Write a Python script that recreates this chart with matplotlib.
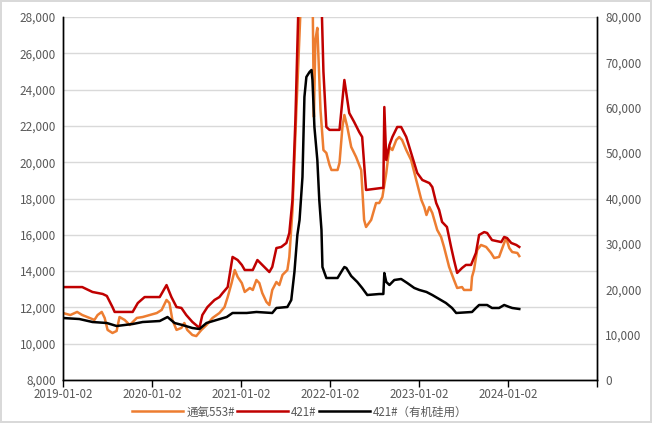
import matplotlib
matplotlib.use("Agg")
import matplotlib.pyplot as plt
import matplotlib.dates as mdates
import pandas as pd
from matplotlib.ticker import FuncFormatter, MultipleLocator
from matplotlib.lines import Line2D

plt.rcParams['font.family'] = ['Noto Sans CJK SC', 'DejaVu Sans']

# 通氧553# (left axis)
o_dates = ["2019-01-02","2019-02-01","2019-03-01","2019-03-22","2019-04-21","2019-05-11","2019-05-24","2019-06-10","2019-06-22","2019-07-04","2019-07-24","2019-08-10","2019-08-22","2019-09-12","2019-10-03","2019-11-01","2019-11-25","2019-12-24","2020-01-22","2020-02-11","2020-03-02","2020-03-14","2020-03-26","2020-04-12","2020-05-02","2020-05-14","2020-05-26","2020-06-16","2020-07-02","2020-07-23","2020-08-13","2020-09-07","2020-10-05","2020-10-26","2020-11-08","2020-11-24","2020-12-07","2020-12-19","2021-01-05","2021-01-17","2021-02-07","2021-02-19","2021-03-06","2021-03-18","2021-03-30","2021-04-16","2021-04-28","2021-05-10","2021-05-27","2021-06-08","2021-06-21","2021-07-11","2021-07-19","2021-08-01","2021-08-17","2021-09-03","2021-09-19","2021-10-10","2021-10-22","2021-10-28","2021-11-03","2021-11-11","2021-11-24","2021-12-06","2021-12-18","2021-12-31","2022-01-08","2022-02-02","2022-02-10","2022-02-22","2022-03-02","2022-03-14","2022-03-30","2022-04-19","2022-05-10","2022-05-22","2022-05-30","2022-06-20","2022-07-10","2022-07-23","2022-08-05","2022-08-21","2022-09-03","2022-09-15","2022-10-01","2022-10-13","2022-10-25","2022-11-11","2022-12-01","2022-12-22","2023-01-12","2023-01-24","2023-02-02","2023-02-14","2023-02-26","2023-03-18","2023-04-03","2023-04-15","2023-05-06","2023-05-26","2023-06-08","2023-06-28","2023-07-06","2023-08-04","2023-08-08","2023-08-16","2023-08-29","2023-09-14","2023-10-05","2023-10-25","2023-11-07","2023-11-27","2023-12-18","2023-12-26","2024-01-08","2024-01-20","2024-02-10","2024-02-18"]
o_vals = [11690,11580,11750,11580,11420,11310,11580,11750,11420,10760,10590,10700,11470,11310,11030,11420,11470,11580,11690,11860,12410,12240,11310,10760,10870,11140,10760,10480,10420,10760,11030,11420,11690,12020,12570,13340,14060,13680,13340,12850,13070,12960,13510,13340,12790,12300,12130,12960,13400,13230,13790,14060,14780,17370,22880,28390,40000,50000,30000,22490,26730,27400,22880,20670,20510,19850,19570,19570,19960,21940,22600,21940,20840,20290,19570,16820,16430,16820,17750,17750,18080,19410,20840,20670,21220,21390,21220,20670,20120,19020,17920,17530,17090,17530,17200,16270,15880,15330,14230,13510,13070,13120,12960,12960,13680,14060,15160,15440,15330,15000,14720,14780,15550,15820,15270,15050,15000,14830]

# 421# (left axis)
r_dates = ["2019-01-02","2019-03-22","2019-05-03","2019-06-14","2019-07-01","2019-07-24","2019-08-02","2019-10-15","2019-11-05","2019-12-03","2020-02-03","2020-03-02","2020-03-22","2020-04-12","2020-05-02","2020-05-22","2020-06-16","2020-07-15","2020-07-27","2020-08-17","2020-09-15","2020-10-05","2020-10-18","2020-11-08","2020-11-28","2020-12-19","2021-01-05","2021-01-17","2021-02-19","2021-03-10","2021-03-30","2021-04-28","2021-05-10","2021-05-27","2021-06-16","2021-07-07","2021-07-19","2021-08-01","2021-08-13","2021-08-25","2021-09-19","2021-10-18","2021-11-15","2021-11-28","2021-12-06","2021-12-18","2021-12-31","2022-02-10","2022-03-02","2022-03-22","2022-04-11","2022-05-02","2022-05-14","2022-05-30","2022-08-01","2022-08-09","2022-08-13","2022-08-21","2022-09-03","2022-09-15","2022-10-05","2022-10-21","2022-11-11","2022-12-01","2022-12-26","2023-01-16","2023-02-14","2023-02-26","2023-03-14","2023-03-26","2023-04-07","2023-04-27","2023-05-14","2023-05-26","2023-06-08","2023-06-28","2023-07-14","2023-08-04","2023-08-24","2023-09-06","2023-09-27","2023-10-09","2023-10-29","2023-12-06","2023-12-18","2023-12-30","2024-01-16","2024-02-06","2024-02-18"]
r_vals = [13120,13120,12850,12740,12630,12020,11750,11750,12240,12570,12570,13230,12570,12020,11970,11580,11200,10870,11580,12020,12410,12570,12790,13120,14780,14610,14340,14060,14060,14610,14340,13950,14230,15270,15330,15550,16100,17920,22330,28390,40000,52000,40000,29000,25000,21940,21780,21780,24530,22710,22220,21660,21390,18470,18580,18580,23040,20120,20950,21390,21940,21940,21390,20510,19410,19020,18850,18630,17750,17370,16710,16430,15330,14610,13900,14170,14340,14340,15000,15990,16150,16100,15710,15600,15880,15820,15550,15440,15330]

# 421#（有机硅用） (right axis)
k_dates = ["2019-01-02","2019-03-10","2019-05-03","2019-07-01","2019-08-10","2019-10-15","2019-11-25","2020-02-03","2020-03-06","2020-04-04","2020-05-06","2020-06-16","2020-07-15","2020-08-13","2020-09-23","2020-11-04","2020-11-28","2021-01-25","2021-03-06","2021-05-10","2021-05-27","2021-07-11","2021-07-27","2021-08-09","2021-08-21","2021-08-30","2021-09-11","2021-09-19","2021-09-27","2021-10-10","2021-10-18","2021-10-22","2021-10-30","2021-11-11","2021-11-19","2021-11-28","2021-12-02","2021-12-18","2022-02-02","2022-02-22","2022-03-02","2022-03-10","2022-03-30","2022-04-24","2022-05-14","2022-06-04","2022-07-23","2022-08-09","2022-08-13","2022-08-21","2022-09-03","2022-09-23","2022-10-21","2022-11-15","2022-12-14","2023-01-04","2023-02-02","2023-02-26","2023-03-26","2023-04-23","2023-05-18","2023-06-04","2023-08-08","2023-08-24","2023-09-06","2023-10-09","2023-10-29","2023-11-27","2023-12-18","2024-01-08","2024-01-20","2024-02-18"]
k_vals = [13660,13440,12780,12560,11900,12340,12780,13000,13880,12560,12120,11460,11240,12560,13220,13880,14770,14770,14990,14770,15870,16090,17630,23800,31960,35260,44740,62370,66780,67880,68320,66120,55760,48490,39670,33060,24900,22480,22480,24240,24900,24690,22920,21600,20280,18730,18950,18950,23580,21600,20940,22040,22260,21380,20280,19840,19400,18730,17850,16970,15870,14770,14990,15870,16530,16530,15870,15870,16530,16090,15870,15650]

x_ticks = ["2019-01-02","2020-01-02","2021-01-02","2022-01-02","2023-01-02","2024-01-02","2025-01-02"]
x_labels = ["2019-01-02","2020-01-02","2021-01-02","2022-01-02","2023-01-02","2024-01-02",""]
labels = ["通氧553#", "421#", "421#（有机硅用）"]
colors = ["#ED7D31", "#C00000", "#000000"]

fig = plt.figure(figsize=(6.52, 4.23), dpi=100)
fig.patch.set_edgecolor("#D9D9D9")
fig.patch.set_linewidth(1.5)
ax = fig.add_axes([63/652, 1-380/423, (597-63)/652, (380-17)/423])
ax2 = ax.twinx()

lw = 1.8
ax.plot(pd.to_datetime(o_dates), o_vals, color=colors[0], lw=lw)
ax.plot(pd.to_datetime(r_dates), r_vals, color=colors[1], lw=lw)
ax2.plot(pd.to_datetime(k_dates), k_vals, color=colors[2], lw=lw)

ax.set_ylim(8000, 28000)
ax.yaxis.set_major_locator(MultipleLocator(2000))
ax2.set_ylim(0, 80000)
ax2.yaxis.set_major_locator(MultipleLocator(10000))
fmt = FuncFormatter(lambda v, p: f"{int(v):,}")
ax.yaxis.set_major_formatter(fmt)
ax2.yaxis.set_major_formatter(fmt)

ax.set_xlim(pd.Timestamp("2019-01-02"), pd.Timestamp("2025-01-02"))
ax.set_xticks(pd.to_datetime(x_ticks))
ax.set_xticklabels(x_labels)

ax.grid(axis='y', color="#D9D9D9", lw=1)
ax.set_axisbelow(True)
for a in (ax, ax2):
    a.spines['top'].set_visible(False)
    for s in ('left', 'right', 'bottom'):
        a.spines[s].set_color("black")
        a.spines[s].set_linewidth(1)
ax.tick_params(axis='y', length=0, labelsize=8.5, labelcolor="#595959", pad=5)
ax2.tick_params(axis='y', length=0, labelsize=8.5, labelcolor="#595959", pad=6)
ax.tick_params(axis='x', length=5, width=1, direction='out', labelsize=8.3, labelcolor="#595959", pad=1)

handles = [Line2D([], [], color=c, lw=lw) for c in colors]
fig.legend(handles, labels, loc='center', bbox_to_anchor=(0.46, 0.026), ncol=3,
           frameon=False, fontsize=8.3, handlelength=4.4, handletextpad=0.3,
           columnspacing=0.2, labelcolor="#595959", borderpad=0)

fig.savefig("out.png", dpi=100)
